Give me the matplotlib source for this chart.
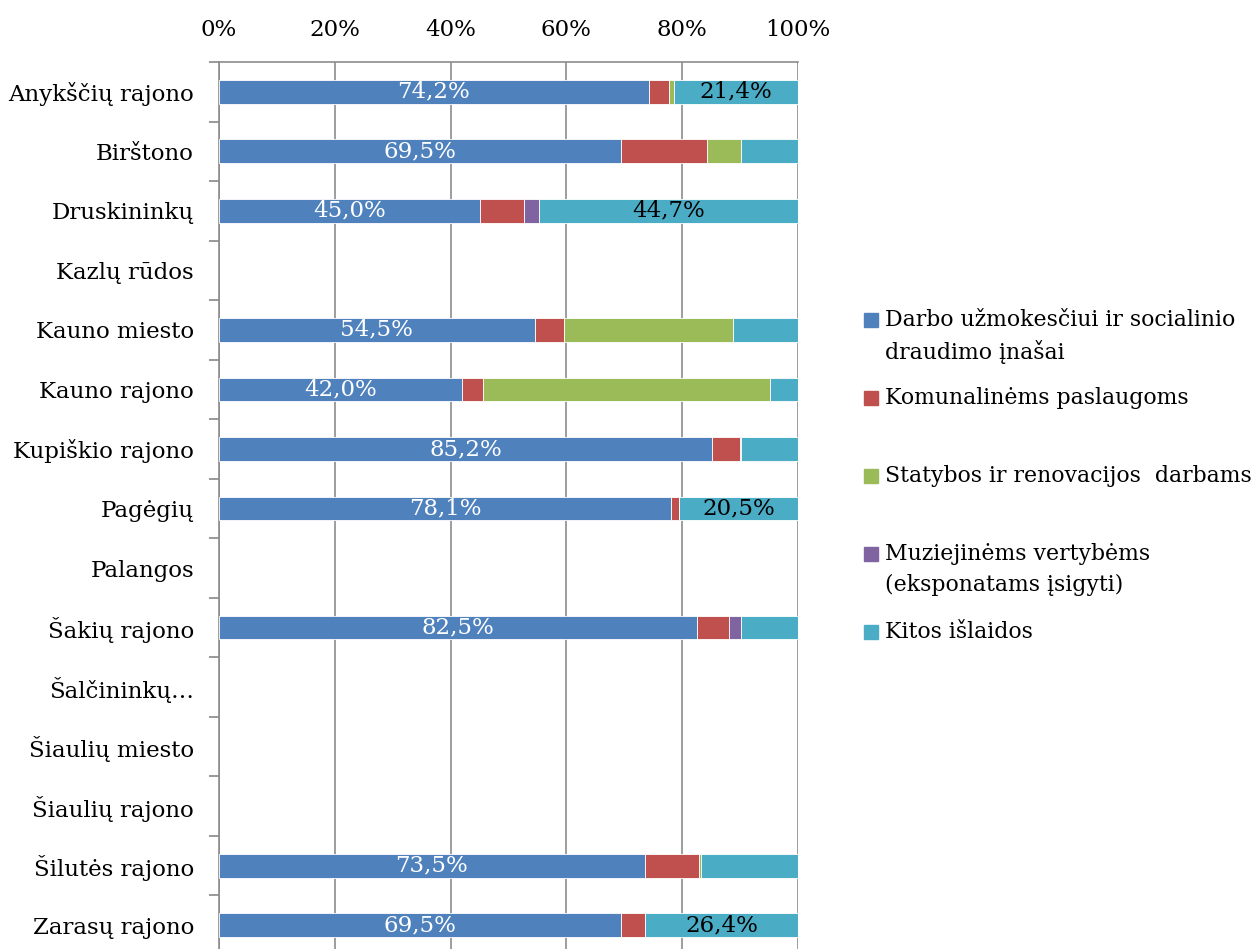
import matplotlib
matplotlib.use("Agg")
import matplotlib.pyplot as plt
from matplotlib.patches import Rectangle
import numpy as np

plt.rcParams['font.family'] = ['DejaVu Serif']

categories = ["Anykščių rajono", "Birštono", "Druskininkų", "Kazlų rūdos",
              "Kauno miesto", "Kauno rajono", "Kupiškio rajono", "Pagėgių",
              "Palangos", "Šakių rajono", "Šalčininkų…", "Šiaulių miesto",
              "Šiaulių rajono", "Šilutės rajono", "Zarasų rajono"]

series_names = ["Darbo užmokesčiui ir socialinio\ndraudimo įnašai",
                "Komunalinėms paslaugoms",
                "Statybos ir renovacijos  darbams",
                "Muziejinėms vertybėms\n(eksponatams įsigyti)",
                "Kitos išlaidos"]

darbo =     [74.2, 69.5, 45.0, 0, 54.5, 42.0, 85.2, 78.1, 0, 82.5, 0, 0, 0, 73.5, 69.5]
komunal =   [3.5, 14.8, 7.7, 0, 5.0, 3.6, 4.8, 1.4, 0, 5.6, 0, 0, 0, 9.4, 4.1]
statybos =  [0.9, 5.8, 0.0, 0, 29.3, 49.6, 0.0, 0.0, 0, 0.0, 0, 0, 0, 0.3, 0.0]
muziej =    [0.0, 0.0, 2.6, 0, 0.0, 0.0, 0.1, 0.0, 0, 2.0, 0, 0, 0, 0.0, 0.0]
kitos =     [21.4, 9.9, 44.7, 0, 11.2, 4.8, 9.9, 20.5, 0, 9.9, 0, 0, 0, 16.8, 26.4]

darbo_labels = ["74,2%", "69,5%", "45,0%", "", "54,5%", "42,0%", "85,2%", "78,1%",
                "", "82,5%", "", "", "", "73,5%", "69,5%"]
kitos_labels = ["21,4%", "", "44,7%", "", "", "", "", "20,5%",
                "", "", "", "", "", "", "26,4%"]

colors = ["#4F81BD", "#C0504D", "#9BBB59", "#8064A2", "#4BACC6"]
xticks = [0, 20, 40, 60, 80, 100]
xtick_labels = ["0%", "20%", "40%", "60%", "80%", "100%"]

FS = 16.5
LFS = 15.8
W, H = 1259, 949
fig = plt.figure(figsize=(W / 100, H / 100), dpi=100)
left, right, top, bottom = 219, 798, 62, 955
ax = fig.add_axes([left / W, 1 - bottom / H, (right - left) / W, (bottom - top) / H])

y = np.arange(len(categories))
data = [darbo, komunal, statybos, muziej, kitos]
cum = np.zeros(len(categories))
for vals, col in zip(data, colors):
    v = np.array(vals, dtype=float)
    lw = [0.6 if val > 0 else 0 for val in v]
    ax.barh(y, v, left=cum, height=0.4, color=col, edgecolor="white",
            linewidth=lw, zorder=3)
    cum += v

darbo_arr = np.array(darbo)
start_kitos = 100 - np.array(kitos)
for i in range(len(categories)):
    if darbo_labels[i]:
        ax.text(darbo_arr[i] / 2, y[i], darbo_labels[i], color="white",
                ha="center", va="center", fontsize=FS, zorder=4)
    if kitos_labels[i]:
        ax.text(start_kitos[i] + kitos[i] / 2, y[i], kitos_labels[i], color="black",
                ha="center", va="center", fontsize=FS, zorder=4)

ax.set_xlim(0, 100)
ax.set_ylim(len(categories) - 0.5, -0.5)
ax.set_xticks(xticks)
ax.set_xticklabels(xtick_labels)
ax.xaxis.tick_top()
ax.tick_params(axis="x", length=0, pad=15, labelsize=FS)
ax.set_yticks(np.arange(-0.5, len(categories) + 0.5, 1.0))
ax.set_yticklabels([])
ax.set_yticks(y, minor=True)
ax.set_yticklabels(categories, minor=True, fontsize=FS)
ax.tick_params(axis="y", which="major", length=7, color="#888888", width=1.2)
ax.tick_params(axis="y", which="minor", length=0, pad=18)
ax.grid(axis="x", color="#8C8C8C", linewidth=1.2, zorder=0)
ax.set_axisbelow(True)
for s in ["right", "bottom"]:
    ax.spines[s].set_visible(False)
for s in ["left", "top"]:
    ax.spines[s].set_color("#8C8C8C")
    ax.spines[s].set_linewidth(1.2)

# legend
leg_y = [320, 398, 476, 554, 632]
for yy, name, col in zip(leg_y, series_names, colors):
    fig.patches.append(Rectangle((864 / W, 1 - (yy + 7) / H), 14 / W, 14 / H,
                                 transform=fig.transFigure, color=col))
    fig.text(885 / W, 1 - (yy - 11) / H, name, ha="left", va="top", fontsize=LFS,
             linespacing=1.5)

fig.savefig("out.png", dpi=100)
